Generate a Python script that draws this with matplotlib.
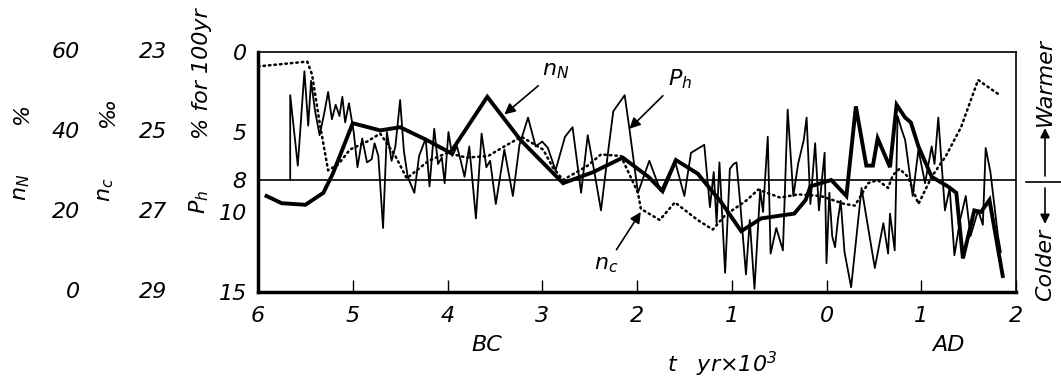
import matplotlib
matplotlib.use("Agg")
import matplotlib.pyplot as plt
import matplotlib.transforms as mtransforms

plt.rcParams['font.family'] = ['DejaVu Sans']
plt.rcParams['font.style'] = 'italic'
plt.rcParams['mathtext.fontset'] = 'dejavusans'

# time in 10^3 yr, BC negative
# P_h : % for 100 yr (thin line)
ph_t = [-5.66, -5.66, -5.58, -5.51, -5.47, -5.44, -5.40, -5.35, -5.30, -5.26,
        -5.22, -5.18, -5.14, -5.11, -5.08, -5.04, -4.99, -4.95, -4.90, -4.85,
        -4.80, -4.77, -4.73, -4.68, -4.64, -4.59, -4.55, -4.50, -4.46, -4.42,
        -4.35, -4.30, -4.23, -4.19, -4.14, -4.10, -4.06, -4.03, -3.99, -3.95,
        -3.90, -3.86, -3.82, -3.77, -3.70, -3.64, -3.59, -3.55, -3.49, -3.40,
        -3.31, -3.24, -3.15, -3.07, -3.00, -2.94, -2.86, -2.76, -2.68, -2.59,
        -2.52, -2.45, -2.38, -2.30, -2.25, -2.13, -2.08, -1.99, -1.87, -1.75,
        -1.60, -1.50, -1.43, -1.29, -1.23, -1.19, -1.16, -1.13, -1.07, -1.02,
        -0.98, -0.95, -0.91, -0.85, -0.81, -0.76, -0.70, -0.67, -0.62, -0.59,
        -0.53, -0.46, -0.41, -0.35, -0.30, -0.24, -0.21, -0.17, -0.12, -0.08,
        -0.04, -0.02, 0.00, 0.03, 0.06, 0.09, 0.12, 0.15, 0.19, 0.26,
        0.37, 0.51, 0.60, 0.65, 0.67, 0.72, 0.75, 0.79, 0.83, 0.91,
        0.97, 1.04, 1.11, 1.14, 1.18, 1.25, 1.30, 1.35, 1.41, 1.47,
        1.52, 1.60, 1.65, 1.68, 1.73, 1.81, 1.84]
ph_val = [8.0, 2.7, 7.1, 1.2, 4.6, 1.8, 3.6, 5.2, 3.8, 2.5,
          4.2, 3.3, 4.0, 2.8, 4.4, 3.2, 5.0, 7.2, 5.4, 6.9,
          6.7, 5.7, 6.5, 11.0, 5.0, 6.8, 5.9, 3.0, 6.2, 7.8,
          8.8, 6.5, 5.4, 8.4, 4.8, 7.0, 6.6, 8.2, 5.0, 6.5,
          5.9, 6.8, 7.8, 5.9, 10.4, 5.1, 7.2, 6.8, 9.5, 6.1,
          9.0, 5.8, 4.1, 5.9, 5.6, 6.0, 7.4, 5.3, 4.7, 8.8,
          5.2, 7.5, 9.9, 6.0, 3.7, 2.7, 4.8, 8.8, 6.8, 8.7,
          6.8, 9.0, 6.3, 5.8, 9.7, 7.5, 10.7, 6.9, 13.8, 7.3,
          7.0, 6.9, 9.5, 13.9, 10.5, 14.8, 8.6, 10.0, 5.3, 12.6,
          11.0, 12.4, 3.6, 9.0, 7.0, 5.5, 4.1, 9.5, 5.7, 9.9,
          7.5, 6.3, 13.2, 8.8, 11.5, 12.2, 10.5, 9.3, 12.5, 14.7,
          8.5, 13.5, 10.7, 12.6, 10.1, 12.4, 4.0, 4.8, 5.5, 9.0,
          6.1, 8.2, 5.9, 7.0, 4.1, 9.9, 8.5, 12.7, 10.5, 9.0,
          11.5, 9.9, 10.8, 6.0, 7.5, 11.5, 12.5]

# n_N (thick line)
nn_t = [-5.91, -5.75, -5.50, -5.31, -5.21, -5.00, -4.71, -4.50, -4.22, -3.97,
        -3.58, -3.23, -2.78, -2.46, -2.15, -1.88, -1.73, -1.59, -1.36, -1.11,
        -0.90, -0.69, -0.34, -0.22, -0.17, 0.05, 0.21, 0.31, 0.42, 0.49,
        0.54, 0.67, 0.74, 0.83, 0.89, 0.97, 1.11, 1.28, 1.37, 1.44,
        1.56, 1.63, 1.72, 1.86]
nn_val = [9.0, 9.45, 9.55, 8.8, 7.6, 4.45, 4.9, 4.7, 5.5, 6.3,
          2.8, 5.5, 8.2, 7.5, 6.6, 7.8, 8.7, 6.75, 7.6, 9.4,
          11.2, 10.4, 10.1, 9.25, 8.4, 8.0, 9.0, 3.4, 7.1, 7.1,
          5.4, 7.2, 3.3, 4.1, 4.4, 5.9, 7.8, 8.4, 8.8, 12.9,
          9.9, 10.0, 9.25, 14.0]

# n_c (dotted line)
nc_t = [-6.0, -5.48, -5.43, -5.35, -5.26, -5.15, -5.03, -4.85, -4.71, -4.55,
        -4.43, -4.20, -4.00, -3.80, -3.57, -3.40, -3.22, -2.99, -2.89, -2.78,
        -2.52, -2.38, -2.17, -1.99, -1.96, -1.76, -1.60, -1.36, -1.20, -1.07,
        -0.85, -0.72, -0.49, -0.30, -0.06, 0.19, 0.30, 0.44, 0.54, 0.65,
        0.70, 0.77, 0.86, 0.97, 1.11, 1.26, 1.42, 1.60, 1.83]
nc_val = [0.9, 0.6, 1.4, 4.4, 7.4, 7.0, 6.1, 5.6, 5.1, 6.5,
          7.9, 6.8, 6.3, 6.6, 6.5, 5.9, 5.3, 6.1, 7.2, 8.0,
          7.1, 6.4, 6.5, 8.8, 9.8, 10.5, 9.4, 10.5, 11.1, 10.2,
          9.3, 8.6, 9.1, 8.9, 9.0, 9.5, 9.6, 8.2, 8.0, 8.5,
          7.7, 7.3, 7.8, 9.5, 7.8, 6.5, 4.7, 1.75, 2.7]

x_ticks = [-6, -5, -4, -3, -2, -1, 0, 1, 2]
x_labels = ['6', '5', '4', '3', '2', '1', '0', '1', '2']
ph_ticks = [0, 5, 8, 10, 15]
ph_labels = ['0', '5', '8', '10', '15']
nc_labels = ['23', '25', '27', '29']
nn_labels = ['60', '40', '20', '0']

FS = 16

fig = plt.figure(figsize=(10.61, 3.8), dpi=100)
ax = fig.add_axes([258 / 1061, 1 - 292 / 380, 758 / 1061, 240 / 380])

ax.plot(ph_t, ph_val, color='k', lw=1.3, zorder=3)
ax.plot(nc_t, nc_val, color='k', lw=1.8, ls=(0, (0.6, 1.6)),
        dash_capstyle='round', zorder=2)
ax.plot(nn_t, nn_val, color='k', lw=2.8, zorder=4, solid_joinstyle='miter')
ax.axhline(8, color='k', lw=1.2, zorder=1)

ax.set_xlim(-6, 2)
ax.set_ylim(15, 0)

ax.set_xticks(x_ticks)
ax.set_xticklabels(x_labels, fontsize=FS)
ax.tick_params(axis='x', direction='in', length=9, width=1.0, pad=10)
ax.set_yticks(ph_ticks)
ax.set_yticklabels(ph_labels, fontsize=FS)
ax.tick_params(axis='y', length=0, pad=8)
ax.set_yticks([5, 10], minor=True)
ax.tick_params(axis='y', which='minor', direction='in', length=12, width=1.0)

for side, w in [('left', 2.5), ('bottom', 2.5), ('top', 1.2), ('right', 1.2)]:
    ax.spines[side].set_linewidth(w)

# extra left scales
tr = mtransforms.blended_transform_factory(fig.transFigure, ax.transData)
for v, lab in zip([0, 5, 10, 15], nc_labels):
    ax.text(167 / 1061, v, lab, transform=tr, ha='right', va='center', fontsize=FS)
for v, lab in zip([0, 5, 10, 15], nn_labels):
    ax.text(80 / 1061, v, lab, transform=tr, ha='right', va='center', fontsize=FS)

def ftext(x, y, s, **kw):
    fig.text(x / 1061, 1 - y / 380, s, ha='center', va='center',
             fontsize=FS, **kw)

ftext(22, 187, r'$n_N$', rotation=90)
ftext(22, 113, '%', rotation=90)
ftext(106, 190, r'$n_c$', rotation=90)
ftext(108, 112, '‰', rotation=90)
ftext(199, 202, r'$P_h$', rotation=90)
ftext(202, 74, '% for 100yr', rotation=90)

ftext(487, 345, 'BC')
ftext(948, 345, 'AD')
ftext(722, 364, r't   yr×10$^3$')

# right side
ftext(1045, 82, 'Warmer', rotation=90)
ftext(1045, 265, 'Colder', rotation=90)
arr = dict(arrowstyle='-|>', color='k', lw=1.2, mutation_scale=14,
           shrinkA=0, shrinkB=0)
ax.annotate('', xy=(1045 / 1061, 1 - 128 / 380), xytext=(1045 / 1061, 1 - 176 / 380),
            xycoords='figure fraction', textcoords='figure fraction',
            arrowprops=arr, annotation_clip=False)
ax.annotate('', xy=(1045 / 1061, 1 - 224 / 380), xytext=(1045 / 1061, 1 - 188 / 380),
            xycoords='figure fraction', textcoords='figure fraction',
            arrowprops=arr, annotation_clip=False)
fig.add_artist(plt.Line2D([1026 / 1061, 1061 / 1061], [1 - 182 / 380, 1 - 182 / 380],
                          color='k', lw=1.2, transform=fig.transFigure))

# curve labels with arrows
lab_arr = dict(arrowstyle='-|>', color='k', lw=1.2, mutation_scale=16,
               shrinkA=2, shrinkB=0)
ax.annotate(r'$n_N$', xy=(-3.40, 3.9), xytext=(-2.86, 1.2), fontsize=FS,
            ha='center', va='center', arrowprops=lab_arr)
ax.annotate(r'$P_h$', xy=(-2.08, 4.8), xytext=(-1.55, 1.7), fontsize=FS,
            ha='center', va='center', arrowprops=lab_arr)
ax.annotate(r'$n_c$', xy=(-1.96, 10.0), xytext=(-2.32, 13.3), fontsize=FS,
            ha='center', va='center', arrowprops=lab_arr)

fig.savefig('out.png', dpi=100)
